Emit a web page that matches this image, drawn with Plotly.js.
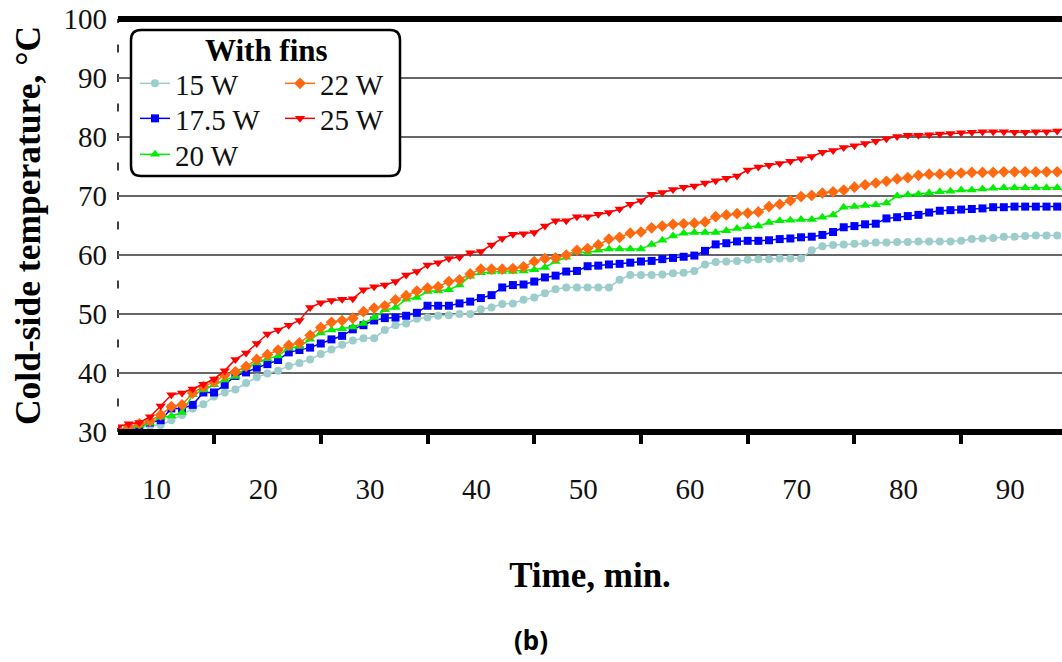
<!DOCTYPE html>
<html>
<head>
<meta charset="utf-8">
<script src="https://cdn.plot.ly/plotly-3.0.1.min.js"></script>
<style>
html, body { margin: 0; padding: 0; background: #ffffff; }
#chart { width: 1062px; height: 662px; }
</style>
</head>
<body>
<div id="chart"></div>
<script>
// Time in minutes (one reading per minute)
const timeMin = [1,2,3,4,5,6,7,8,9,10,11,12,13,14,15,16,17,18,19,20,
  21,22,23,24,25,26,27,28,29,30,31,32,33,34,35,36,37,38,39,40,
  41,42,43,44,45,46,47,48,49,50,51,52,53,54,55,56,57,58,59,60,
  61,62,63,64,65,66,67,68,69,70,71,72,73,74,75,76,77,78,79,80,
  81,82,83,84,85,86,87,88,89];

// Cold-side temperature (°C), with fins
const temp15W = [30.0,30.3,30.9,31.0,31.2,32.0,32.9,34.0,34.7,36.0,
  36.7,37.2,38.3,39.3,39.9,40.4,41.2,41.7,42.3,43.2,
  44.0,44.8,45.5,45.9,45.9,47.3,48.1,48.4,49.2,49.4,
  49.7,49.8,50.0,50.0,50.8,51.1,51.7,51.8,52.4,52.8,
  53.5,54.2,54.5,54.5,54.5,54.5,54.5,55.8,56.6,56.6,
  56.6,56.7,56.9,57.0,57.3,58.4,58.8,58.9,59.0,59.2,
  59.3,59.3,59.4,59.4,59.4,60.8,61.5,61.7,61.8,61.9,
  62.0,62.1,62.1,62.2,62.2,62.3,62.3,62.3,62.3,62.4,
  62.7,62.8,62.9,63.1,63.1,63.2,63.3,63.3,63.3];

const temp17_5W = [30.1,30.6,30.9,31.6,32.0,34.0,34.0,34.6,36.7,36.7,
  38.0,39.5,40.1,40.9,41.5,42.2,43.5,43.9,44.3,45.0,
  45.7,46.3,47.4,48.1,48.9,49.3,49.4,49.7,50.2,51.4,
  51.4,51.4,51.8,52.1,52.7,53.2,54.5,54.9,55.0,55.5,
  56.2,56.5,57.2,57.3,58.1,58.2,58.4,58.5,58.7,58.9,
  59.0,59.3,59.5,59.7,59.9,60.7,61.8,62.0,62.3,62.4,
  62.4,62.5,62.7,62.8,63.0,63.1,63.4,63.9,64.7,64.9,
  65.2,65.3,66.2,66.4,66.6,66.8,67.2,67.5,67.6,67.7,
  67.8,67.9,68.1,68.1,68.2,68.2,68.2,68.2,68.2];

const temp20W = [30.1,30.6,31.1,31.5,32.5,32.7,33.3,36.3,37.1,38.0,
  38.8,39.4,40.9,41.7,42.4,42.9,44.2,44.5,45.7,46.8,
  47.3,47.5,47.8,48.4,49.4,50.7,51.1,52.5,52.8,53.8,
  53.9,54.1,54.9,56.4,57.0,57.1,57.2,57.2,57.3,57.5,
  57.9,58.9,59.6,60.6,60.4,60.8,61.0,61.0,61.0,61.0,
  61.8,62.5,63.2,63.7,63.8,63.8,63.8,64.1,64.5,64.8,
  64.9,65.5,65.8,65.9,66.0,66.0,66.4,66.8,68.1,68.2,
  68.4,68.5,68.8,70.0,70.2,70.3,70.5,70.7,70.8,71.0,
  71.0,71.2,71.3,71.4,71.4,71.4,71.4,71.4,71.4];

const temp22W = [30.3,30.8,31.4,31.9,32.9,34.3,34.6,36.6,37.7,38.5,
  39.6,40.2,41.1,42.3,43.1,43.9,44.7,45.1,46.4,47.7,
  48.6,48.9,49.3,50.4,51.0,51.4,52.4,53.1,53.9,54.4,
  54.6,55.5,55.8,56.8,57.6,57.6,57.6,57.7,58.0,58.9,
  59.4,59.5,60.0,60.8,61.1,61.7,62.7,63.0,63.7,63.9,
  64.6,64.9,65.2,65.3,65.4,65.6,66.5,66.8,67.0,67.1,
  67.3,68.2,68.6,69.2,69.9,70.1,70.5,70.7,71.0,71.5,
  71.9,72.2,72.5,72.9,73.1,73.5,73.7,73.7,73.8,73.9,
  74.0,74.0,74.0,74.1,74.1,74.1,74.1,74.1,74.1];

const temp25W = [30.9,31.4,31.6,32.6,34.4,36.3,36.6,37.3,38.1,39.0,
  40.4,42.3,43.4,45.0,46.6,47.3,48.1,48.9,51.1,51.9,
  52.3,52.5,52.6,54.1,54.6,54.9,55.5,56.6,57.2,58.3,
  58.7,59.4,59.6,60.4,60.6,61.7,62.8,63.5,63.6,63.8,
  64.9,65.8,65.8,66.5,66.5,66.9,67.2,67.8,68.6,69.2,
  70.3,70.6,71.1,71.5,71.7,72.2,72.6,73.0,73.4,74.4,
  74.9,75.2,75.5,75.9,76.3,76.7,77.4,77.7,78.2,78.5,
  78.9,79.3,79.7,80.1,80.3,80.3,80.4,80.5,80.6,80.7,
  80.8,80.9,80.9,80.9,80.8,80.8,80.9,80.9,81.0];

const seriesNames = ['15 W', '17.5 W', '20 W', '22 W', '25 W'];
const xTickLabels = [10, 20, 30, 40, 50, 60, 70, 80, 90];
const yTickValues = [30, 40, 50, 60, 70, 80, 90, 100];

// ---- layout helpers (pixel -> paper) ----
const W = 1062, H = 662;
const M = { l: 118, r: 0, t: 19, b: 230 };
const PW = W - M.l - M.r, PH = H - M.t - M.b;
const px = x => (x - M.l) / PW;
const py = y => (H - M.b - y) / PH;

const serif = 'Liberation Serif, Times New Roman, serif';

function mk(name, y, color, symbol, size, legend) {
  return {
    type: 'scatter', mode: 'lines+markers', name: name,
    x: timeMin, y: y, legend: legend,
    line: { color: color, width: 1.5 },
    marker: { color: color, symbol: symbol, size: size }
  };
}

const traces = [
  mk(seriesNames[0], temp15W, '#9ccccc', 'circle', 8, 'legend'),
  mk(seriesNames[1], temp17_5W, '#0000ff', 'square', 8, 'legend2'),
  mk(seriesNames[2], temp20W, '#00ee00', 'triangle-up', 9, 'legend3'),
  mk(seriesNames[3], temp22W, '#ff6a10', 'diamond', 9, 'legend4'),
  mk(seriesNames[4], temp25W, '#ff0000', 'triangle-down', 9, 'legend5')
];

// rounded legend box
const bx0 = px(131), bx1 = px(400), by1 = py(30), by0 = py(176);
const rx = 10 / PW, ry = 10 / PH;
const boxPath = `M ${bx0 + rx},${by1} L ${bx1 - rx},${by1} Q ${bx1},${by1} ${bx1},${by1 - ry} ` +
  `L ${bx1},${by0 + ry} Q ${bx1},${by0} ${bx1 - rx},${by0} L ${bx0 + rx},${by0} ` +
  `Q ${bx0},${by0} ${bx0},${by0 + ry} L ${bx0},${by1 - ry} Q ${bx0},${by1} ${bx0 + rx},${by1} Z`;

const legendFont = { family: serif, size: 29, color: '#111' };
function leg(xPix, topPix) {
  return {
    x: px(xPix), xanchor: 'left', y: py(topPix), yanchor: 'top',
    bgcolor: 'rgba(0,0,0,0)', borderwidth: 0, font: legendFont,
    tracegroupgap: 0, itemwidth: 30
  };
}

const layout = {
  width: W, height: H,
  margin: M,
  paper_bgcolor: '#ffffff', plot_bgcolor: '#ffffff',
  showlegend: true,
  xaxis: {
    range: [1, 89.45], autorange: false,
    showgrid: false, zeroline: false, showline: false,
    tickmode: 'array',
    tickvals: xTickLabels.map(v => v - 5.4),
    ticktext: xTickLabels.map(String),
    ticks: '',
    ticklabelstandoff: 37,
    tickfont: { family: serif, size: 29, color: '#111' },
    minor: { tickmode: 'linear', tick0: 0, dtick: 10, ticks: 'outside', ticklen: 11, tickwidth: 4, tickcolor: '#000', showgrid: false },
    title: { text: '<b>Time, min.</b>', font: { family: serif, size: 35, color: '#000' }, standoff: 58 },
    automargin: false
  },
  yaxis: {
    range: [30, 100], autorange: false,
    tickmode: 'array', tickvals: yTickValues, ticktext: yTickValues.map(String),
    ticks: '',
    showgrid: true, gridcolor: '#666666', gridwidth: 2,
    zeroline: false, showline: false,
    ticklabelstandoff: 10,
    tickfont: { family: serif, size: 29, color: '#111' },
    title: { text: '<b>Cold-side temperature, °C</b>', font: { family: serif, size: 35.5, color: '#000' }, standoff: 12 },
    automargin: false
  },
  legend: leg(135, 58),
  legend2: leg(135, 93),
  legend3: leg(135, 129),
  legend4: leg(280, 58),
  legend5: leg(280, 93),
  shapes: [
    { type: 'line', xref: 'paper', x0: 0, x1: 0, yref: 'y', y0: 100.68, y1: 29.32, line: { color: '#000', width: 1.5, dash: '8px,21.5px' }, layer: 'between' },
    { type: 'line', xref: 'paper', x0: 0, x1: 1, yref: 'paper', y0: 0, y1: 0, line: { color: '#000', width: 6 }, layer: 'above' },
    { type: 'line', xref: 'paper', x0: 0, x1: 1, yref: 'paper', y0: 1, y1: 1, line: { color: '#000', width: 6 }, layer: 'above' },
    { type: 'path', xref: 'paper', yref: 'paper', path: boxPath, fillcolor: '#ffffff', line: { color: '#000', width: 2.5 }, layer: 'above' }
  ],
  annotations: [
    { xref: 'paper', yref: 'paper', x: px(266), y: py(50), text: '<b>With fins</b>', showarrow: false,
      font: { family: serif, size: 31, color: '#000' }, xanchor: 'center', yanchor: 'middle' },
    { xref: 'paper', yref: 'paper', x: px(531), y: py(640), text: '<b>(b)</b>', showarrow: false,
      font: { family: 'Noto Sans, sans-serif', size: 26, color: '#000' }, xanchor: 'center', yanchor: 'middle' }
  ]
};

Plotly.newPlot('chart', traces, layout, { staticPlot: true, displayModeBar: false });
</script>
</body>
</html>
